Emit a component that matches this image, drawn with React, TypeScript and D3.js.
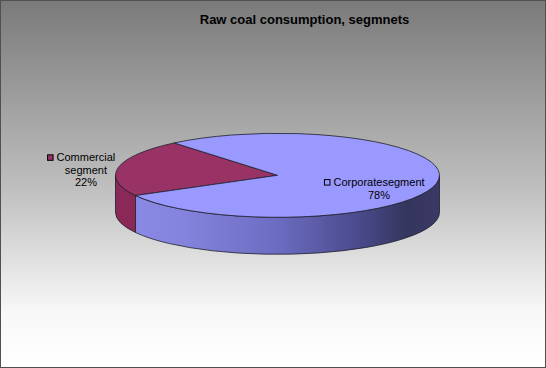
import * as d3 from 'd3'

const W = 546
const H = 368

const title = 'Raw coal consumption, segmnets'
const categories = ['Commercial segment', 'Corporate segment']
const shares = [22, 78]
const labelLines = [['Commercial', 'segment'], ['Corporatesegment']]
const topColors = ['#993366', '#9999ff']
const sideColors = ['#8a2858', 'url(#side-blue)']
const labelRadius = [1.204, 0.638]
const labelShiftY = [4, 8]

// pie geometry (ellipse + depth)
const cx = 277.5
const cy = 175.3
const rx = 162
const ry = 42
const depth = 37
const startDeg = 241.2

const font = '11px "Liberation Sans", Arial, sans-serif'
const lineH = 12.5

let ctx: CanvasRenderingContext2D | null = null
function textWidth(s: string) {
  if (!ctx) ctx = document.createElement('canvas').getContext('2d')
  if (!ctx) return s.length * 6
  ctx.font = font
  return ctx.measureText(s).width
}

function pt(a: number, r = 1, dy = 0): [number, number] {
  return [cx + rx * r * Math.sin(a), cy - ry * r * Math.cos(a) + dy]
}

function topPath(a0: number, a1: number) {
  const [x0, y0] = pt(a0)
  const [x1, y1] = pt(a1)
  const large = a1 - a0 > Math.PI ? 1 : 0
  return `M${cx},${cy}L${x0},${y0}A${rx},${ry} 0 ${large} 1 ${x1},${y1}Z`
}

function sidePaths(a0: number, a1: number) {
  const out: string[] = []
  for (let k = -1; k <= 2; k++) {
    const s = Math.max(a0, Math.PI / 2 + 2 * Math.PI * k)
    const e = Math.min(a1, (3 * Math.PI) / 2 + 2 * Math.PI * k)
    if (e - s <= 1e-6) continue
    const [x0, y0] = pt(s)
    const [x1, y1] = pt(e)
    out.push(
      `M${x0},${y0}A${rx},${ry} 0 0 1 ${x1},${y1}L${x1},${y1 + depth}A${rx},${ry} 0 0 0 ${x0},${y0 + depth}Z`
    )
  }
  return out
}

export default function App() {
  const total = d3.sum(shares)
  const pct = d3.format('.0%')
  const start = (startDeg * Math.PI) / 180
  const arcs = d3
    .pie<number>()
    .sort(null)
    .startAngle(start)
    .endAngle(start + 2 * Math.PI)(shares)

  return (
    <svg width={W} height={H} style={{ position: 'fixed', left: 0, top: 0 }}>
      <defs>
        <linearGradient id="bg" x1="0" y1="0" x2="0" y2="1">
          <stop offset="0%" stopColor="#7a7a7a" />
          <stop offset="50%" stopColor="#bdbdbd" />
          <stop offset="85%" stopColor="#f8f8f8" />
          <stop offset="100%" stopColor="#ffffff" />
        </linearGradient>
        <linearGradient id="side-blue" gradientUnits="userSpaceOnUse" x1={cx - rx} y1="0" x2={cx + rx} y2="0">
          <stop offset="0%" stopColor="#8c8ce8" />
          <stop offset="20%" stopColor="#8484de" />
          <stop offset="50%" stopColor="#6c6cc2" />
          <stop offset="75%" stopColor="#4a4a8c" />
          <stop offset="90%" stopColor="#35355e" />
          <stop offset="100%" stopColor="#393964" />
        </linearGradient>
      </defs>
      <rect x={0.5} y={0.5} width={W - 1} height={H - 1} fill="url(#bg)" stroke="#505050" />
      <text
        x={304.5}
        y={24}
        textAnchor="middle"
        fontFamily='"Liberation Sans", Arial, sans-serif'
        fontWeight="bold"
        fontSize={13}
        fill="#000"
      >
        {title}
      </text>

      {arcs.map((d, i) =>
        sidePaths(d.startAngle, d.endAngle).map((p, j) => (
          <path key={`s${i}-${j}`} d={p} fill={sideColors[i]} stroke="#1e1e2a" strokeWidth={0.8} />
        ))
      )}
      {arcs.map((d, i) => (
        <path key={`t${i}`} d={topPath(d.startAngle, d.endAngle)} fill={topColors[i]} stroke="#1e1e2a" strokeWidth={0.8} />
      ))}

      {arcs.map((d, i) => {
        const mid = (d.startAngle + d.endAngle) / 2
        const [lx, ly] = pt(mid, labelRadius[i], labelShiftY[i])
        const lines = [...labelLines[i], pct(shares[i] / total)]
        const b0 = ly + 4 - ((lines.length - 1) / 2) * lineH
        const w0 = textWidth(lines[0])
        return (
          <g key={`l${i}`} fontFamily='"Liberation Sans", Arial, sans-serif' fontSize={11} fill="#000">
            <rect
              x={lx - w0 / 2 - 9}
              y={b0 - 6.5}
              width={5.5}
              height={5.5}
              fill={topColors[i]}
              stroke="#000"
              strokeWidth={1}
            >
              <title>{categories[i]}</title>
            </rect>
            {lines.map((s, k) => (
              <text key={k} x={lx} y={b0 + k * lineH} textAnchor="middle">
                {s}
              </text>
            ))}
          </g>
        )
      })}
    </svg>
  )
}
